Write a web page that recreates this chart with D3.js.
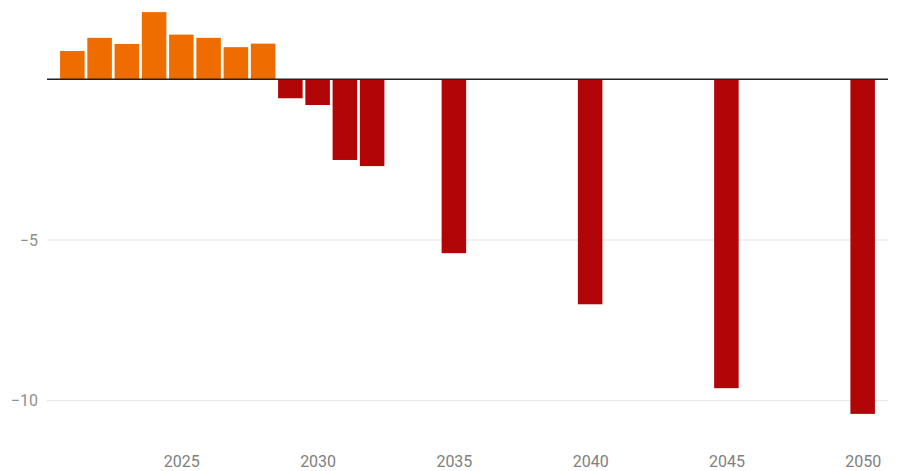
<!DOCTYPE html>
<html>
<head>
<meta charset="utf-8">
<script src="https://cdn.jsdelivr.net/npm/d3@7"></script>
<style>
  body { margin: 0; background: #fff; }
  svg { display: block; font-family: Roboto, sans-serif; }
</style>
</head>
<body>
<svg id="chart" width="900" height="471"></svg>
<script>
// values
const years = [2021, 2022, 2023, 2024, 2025, 2026, 2027, 2028,
               2029, 2030, 2031, 2032, 2035, 2040, 2045, 2050];
const values = [0.88, 1.29, 1.10, 2.09, 1.39, 1.29, 1.00, 1.11,
                -0.59, -0.80, -2.51, -2.70, -5.41, -7.00, -9.61, -10.41];
const xTicks = [2025, 2030, 2035, 2040, 2045, 2050];
const yTicks = [-5, -10];

const svg = d3.select("#chart");

const left = 47, right = 888;

// one year = one step, bars sit on the year
let x = d3.scaleLinear()
    .domain([2020.07, 2050.93])
    .range([left, right]);

let y = d3.scaleLinear()
    .domain([0, -10])
    .range([79.3, 400.7]);

let step = x(2022) - x(2021);
let barW = step * 0.9;

// gridlines
svg.append("g")
    .selectAll("line")
    .data(yTicks)
    .enter().append("line")
    .attr("x1", left)
    .attr("x2", right)
    .attr("y1", d => y(d))
    .attr("y2", d => y(d))
    .attr("stroke", "#e3e3e3")
    .attr("stroke-width", 1);

// y labels
svg.append("g")
    .selectAll("text")
    .data(yTicks)
    .enter().append("text")
    .attr("x", 38)
    .attr("y", d => y(d))
    .attr("dy", "0.35em")
    .attr("text-anchor", "end")
    .attr("font-size", 16)
    .attr("fill", "#8f8f8f")
    .text(d => d3.format("")(d));

// bars
svg.append("g")
    .selectAll("rect")
    .data(years.map((yr, i) => ({year: yr, value: values[i]})))
    .enter().append("rect")
    .attr("x", d => x(d.year) - barW / 2)
    .attr("width", barW)
    .attr("y", d => y(Math.max(0, d.value)))
    .attr("height", d => Math.abs(y(d.value) - y(0)))
    .attr("fill", d => d.value >= 0 ? "#ee6c00" : "#b20508");

// zero line
svg.append("line")
    .attr("x1", left)
    .attr("x2", right)
    .attr("y1", y(0))
    .attr("y2", y(0))
    .attr("stroke", "#222")
    .attr("stroke-width", 1.5);

// x axis labels
let axis = d3.axisBottom(x)
    .tickValues(xTicks)
    .tickFormat(d3.format("d"))
    .tickSize(0)
    .tickPadding(0);

let gx = svg.append("g")
    .attr("transform", "translate(0, 455.5)")
    .call(axis);

gx.select(".domain").remove();
gx.selectAll("text")
    .attr("font-family", "Roboto, sans-serif")
    .attr("font-size", 16)
    .attr("fill", "#808080");
</script>
</body>
</html>
